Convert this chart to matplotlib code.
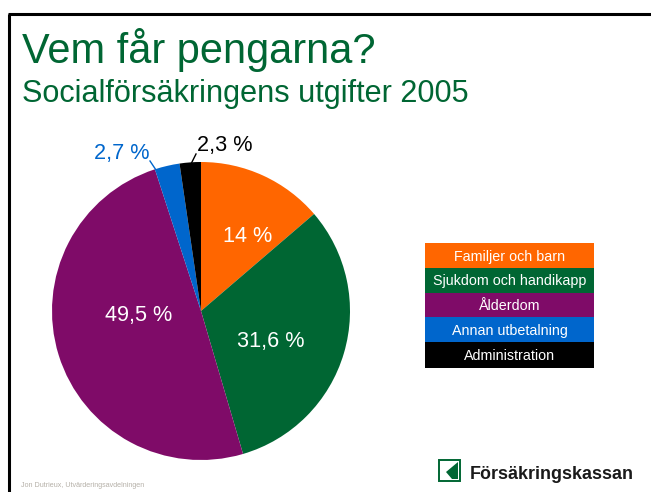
import matplotlib
matplotlib.use("Agg")
import matplotlib.pyplot as plt
from matplotlib.patches import Rectangle, Polygon

# data
categories = ["Familjer och barn", "Sjukdom och handikapp", "Ålderdom", "Annan utbetalning", "Administration"]
values = [13.7, 31.7, 49.5, 2.7, 2.3]
labels = ["14 %", "31,6 %", "49,5 %", "2,7 %", "2,3 %"]
colors = ["#FF6600", "#006633", "#7F0B68", "#0066CC", "#000000"]
label_colors = ["white", "white", "white", "#0066CC", "black"]

W, H = 651, 492
GREEN = "#006633"

plt.rcParams["font.family"] = ["Liberation Sans", "DejaVu Sans"]

fig = plt.figure(figsize=(W / 100, H / 100), dpi=100)

# pie, centre (201, 311) radius 149
cx, cy, r = 201, 311, 149
pie_ax = fig.add_axes([(cx - r) / W, 1 - (cy + r) / H, 2 * r / W, 2 * r / H], zorder=1)
wedges, _ = pie_ax.pie(values, colors=colors, startangle=90, counterclock=False, radius=1)
pie_ax.set_xlim(-1, 1)
pie_ax.set_ylim(-1, 1)

# whole figure in pixel coordinates, on top of the pie
bg = fig.add_axes([0, 0, 1, 1], zorder=2)
bg.set_xlim(0, W)
bg.set_ylim(H, 0)
bg.axis("off")

# slide frame, open to the right and bottom
bg.plot([9, 9], [H, 14], color="black", lw=2.2, solid_capstyle="butt")
bg.plot([8, W], [14, 14], color="black", lw=2.2, solid_capstyle="butt")

bg.text(22, 63, "Vem får pengarna?", color=GREEN, fontsize=29.9, va="baseline")
bg.text(22, 102, "Socialförsäkringens utgifter 2005", color=GREEN, fontsize=22.1, va="baseline")

label_pos = [(248, 237), (271, 341), (139, 316), (122, 153), (225, 145)]
for txt, col, (x, y) in zip(labels, label_colors, label_pos):
    bg.text(x, y, txt, color=col, fontsize=15.6, ha="center", va="center", zorder=5)

# leader lines for the small slices
bg.plot([150, 156], [161, 170], color="#0066CC", lw=1, zorder=5)
bg.plot([196, 191], [154, 164], color="black", lw=1, zorder=5)

# legend boxes
box_x, box_w = 425, 169
box_y = [243, 268, 293, 317, 342, 368]
for i, name in enumerate(categories):
    bg.add_patch(Rectangle((box_x, box_y[i]), box_w, box_y[i + 1] - box_y[i], fc=colors[i], ec="none"))
    bg.text(box_x + box_w / 2, (box_y[i] + box_y[i + 1]) / 2 + 1, name, color="white",
            fontsize=10.3, ha="center", va="center")

# footer
bg.text(21, 487, "Jon Dutrieux, Utvärderingsavdelningen", color="#B5B0A8", fontsize=5.1, va="baseline")

# logo: frame with a white notch cut into the green shape
bg.add_patch(Rectangle((439, 460), 21, 21, fc="white", ec=GREEN, lw=1.4))
bg.add_patch(Polygon([(446, 472), (458, 462), (458, 479), (452, 479)], fc=GREEN, ec="none"))
bg.text(470, 479, "Försäkringskassan", color="#1A1A1A", fontsize=12.9, fontweight="bold", va="baseline")

fig.savefig("out.png", dpi=100)
